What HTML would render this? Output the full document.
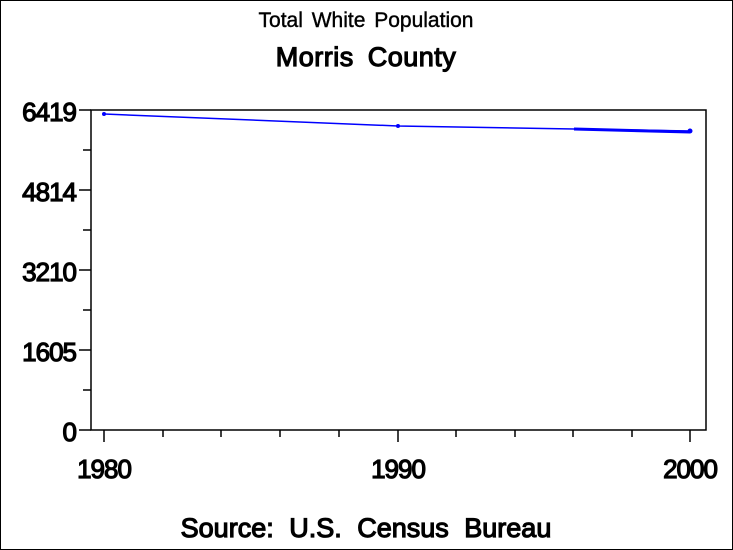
<!DOCTYPE html>
<html><head><style>
html,body{margin:0;padding:0;background:#fff;}
svg{display:block;}
text{font-family:"Liberation Sans",Arial,sans-serif;fill:#000;}
</style></head><body>
<svg width="733" height="550" viewBox="0 0 733 550" xmlns="http://www.w3.org/2000/svg">
<rect x="0.5" y="0.5" width="732" height="549" fill="#fff" stroke="#000" stroke-width="1"/>
<text x="366" y="27" font-size="21" text-anchor="middle" word-spacing="3" stroke="#000" stroke-width="0.4">Total White Population</text>
<text x="366" y="66" font-size="27" text-anchor="middle" word-spacing="6" letter-spacing="0.5" stroke="#000" stroke-width="1.2">Morris County</text>
<rect x="91" y="110" width="615" height="320" fill="none" stroke="#000" stroke-width="1.5"/>
<g stroke="#000" stroke-width="1.5">
<line x1="79" y1="110" x2="91" y2="110"/>
<line x1="79" y1="190" x2="91" y2="190"/>
<line x1="79" y1="270" x2="91" y2="270"/>
<line x1="79" y1="350" x2="91" y2="350"/>
<line x1="79" y1="430" x2="91" y2="430"/>
<line x1="83" y1="150" x2="91" y2="150"/>
<line x1="83" y1="230" x2="91" y2="230"/>
<line x1="83" y1="310" x2="91" y2="310"/>
<line x1="83" y1="390" x2="91" y2="390"/>
<line x1="104" y1="430" x2="104" y2="442"/>
<line x1="398" y1="430" x2="398" y2="442"/>
<line x1="690" y1="430" x2="690" y2="442"/>
<line x1="163" y1="430" x2="163" y2="437"/>
<line x1="221" y1="430" x2="221" y2="437"/>
<line x1="280" y1="430" x2="280" y2="437"/>
<line x1="339" y1="430" x2="339" y2="437"/>
<line x1="456" y1="430" x2="456" y2="437"/>
<line x1="515" y1="430" x2="515" y2="437"/>
<line x1="573" y1="430" x2="573" y2="437"/>
<line x1="632" y1="430" x2="632" y2="437"/>
</g>
<g font-size="26" text-anchor="end" letter-spacing="-1" stroke="#000" stroke-width="1.2">
<text x="76" y="121">6419</text>
<text x="76" y="201">4814</text>
<text x="76" y="281">3210</text>
<text x="76" y="361">1605</text>
<text x="76" y="441">0</text>
</g>
<g font-size="26" text-anchor="middle" letter-spacing="-1" stroke="#000" stroke-width="1.2">
<text x="104" y="478">1980</text>
<text x="398" y="478">1990</text>
<text x="690" y="478">2000</text>
</g>
<polyline points="104,114 398,126 574,129 690,131" fill="none" stroke="#0000ff" stroke-width="1.5"/>
<polyline points="574,129 690,132" fill="none" stroke="#0000ff" stroke-width="3"/>
<circle cx="104" cy="114" r="2" fill="#0000ff"/>
<circle cx="398" cy="126" r="2" fill="#0000ff"/>
<circle cx="690" cy="131" r="2.5" fill="#0000ff"/>
<text x="366" y="537" font-size="27" text-anchor="middle" word-spacing="8" stroke="#000" stroke-width="1.2">Source: U.S. Census Bureau</text>
</svg>
</body></html>
